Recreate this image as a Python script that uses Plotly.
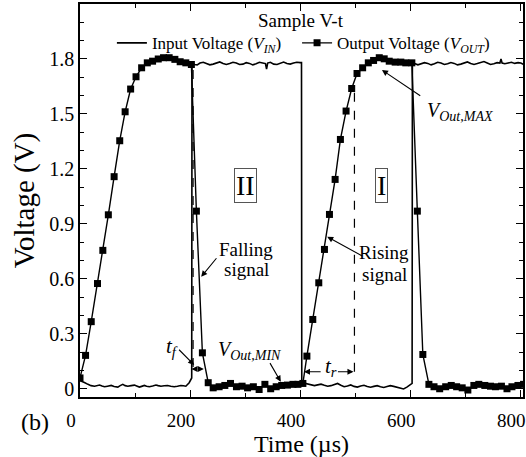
import plotly.graph_objects as go

# ---- Input voltage V_IN (square drive signal) ----
t_in = [0, 2.4, 8, 14.5, 20, 26.5, 31, 35.6, 40, 44.6, 50, 56.7, 62, 68.7, 73, 77.8, 82, 86.8,
        93, 98.9, 103, 107.9, 112, 117, 121, 126, 132, 138, 142, 147.1, 153, 159.2, 165, 171.2,
        177, 183.3, 188, 192.3, 198.4, 201.4, 203,
        203.5, 208, 213, 218, 224, 230, 236, 242, 248, 254, 260, 266, 272, 278, 284, 290, 296,
        302, 308, 314, 320, 326, 332, 337, 339, 341, 346, 352, 358, 364, 370, 376, 382, 388,
        394, 400, 402.5,
        403, 408, 414, 420, 426, 432, 438, 444, 450, 456, 462, 468, 474, 480, 486, 492, 498,
        504, 510, 516, 522, 528, 534, 540, 546, 552, 558, 564, 570, 576, 582, 588, 594, 600, 603.5,
        604, 608, 614, 620, 626, 632, 638, 644, 650, 656, 662, 668, 674, 680, 686, 692, 698,
        704, 710, 716, 722, 728, 734, 740, 746, 752, 758, 763, 765, 767, 772, 778, 784, 790,
        796, 801, 806]
v_in = [0.045, 0.043, 0.035, 0.025, 0.018, 0.015, 0.019, 0.021, 0.016, 0.012, 0.015, 0.019, 0.013,
        0.010, 0.018, 0.025, 0.018, 0.015, 0.018, 0.021, 0.016, 0.010, 0.014, 0.019, 0.015, 0.012,
        0.016, 0.021, 0.018, 0.015, 0.017, 0.019, 0.015, 0.012, 0.015, 0.019, 0.017, 0.015, 0.034,
        0.052, 0.060,
        1.780, 1.770, 1.768, 1.778, 1.782, 1.774, 1.768, 1.772, 1.780, 1.784, 1.776, 1.770, 1.775,
        1.782, 1.778, 1.770, 1.772, 1.780, 1.776, 1.768, 1.774, 1.782, 1.778, 1.775, 1.745, 1.778,
        1.782, 1.772, 1.770, 1.778, 1.783, 1.775, 1.772, 1.778, 1.782, 1.780, 1.780,
        0.035, 0.032, 0.028, 0.022, 0.018, 0.022, 0.026, 0.020, 0.015, 0.018, 0.024, 0.030, 0.020,
        0.012, 0.016, 0.022, 0.014, 0.010, 0.016, 0.020, 0.013, 0.009, 0.014, 0.018, 0.012, 0.008,
        0.013, 0.018, 0.014, 0.010, 0.006, 0.000, 0.010, 0.025, 0.030,
        1.785, 1.775, 1.768, 1.772, 1.780, 1.776, 1.768, 1.774, 1.782, 1.778, 1.770, 1.774, 1.781,
        1.776, 1.768, 1.772, 1.780, 1.784, 1.776, 1.770, 1.775, 1.782, 1.786, 1.778, 1.770, 1.774,
        1.780, 1.778, 1.800, 1.778, 1.774, 1.778, 1.782, 1.776, 1.780, 1.778, 1.770]

# ---- Output voltage V_OUT (sampled, square markers) ----
t_out = [0, 10.1, 20.4, 31.8, 41.5, 51.5, 62.0, 72.2, 82.0, 92.0, 101.8, 112.0, 122.3, 131.9,
         142.2, 151.8, 162.0, 172.4, 182.0, 192.3, 202.4, 211.5, 222.4, 233.0, 242.0, 252.8,
         263.2, 273.5, 284.3, 294.5, 304.5, 315.0, 325.5, 336.0, 346.5, 356.5, 366.5, 377.0,
         387.0, 396.0, 405.0, 412.3, 423.0, 433.9, 444.2, 453.3, 463.6, 473.2, 483.5, 493.7,
         503.4, 513.6, 523.9, 533.5, 543.8, 552.8, 561.9, 572.7, 583.0, 592.0, 603.0, 613.0,
         623.0, 634.0, 643.3, 653.6, 664.5, 674.6, 684.4, 694.5, 704.8, 715.7, 724.7, 735.6,
         745.9, 754.9, 765.8, 775.9, 784.9, 795.8, 806.0]
v_out = [0.06, 0.183, 0.367, 0.575, 0.756, 0.950, 1.158, 1.354, 1.512, 1.636, 1.703, 1.752, 1.779,
         1.788, 1.800, 1.807, 1.807, 1.798, 1.785, 1.779, 1.770, 0.970, 0.197, 0.034, 0.006, 0.012,
         0.019, 0.030, 0.012, 0.015, 0.006, 0.012, -0.003, 0.025, 0.001, 0.012, 0.019, 0.021,
         0.025, 0.025, 0.030, 0.179, 0.379, 0.579, 0.761, 0.952, 1.143, 1.361, 1.516, 1.639,
         1.721, 1.752, 1.779, 1.792, 1.807, 1.801, 1.788, 1.783, 1.783, 1.779, 1.779, 0.970,
         0.188, 0.025, 0.012, 0.001, 0.012, 0.019, 0.012, 0.006, -0.006, 0.019, 0.025, 0.019,
         0.015, 0.012, 0.015, 0.001, 0.012, 0.019, 0.025]

x_tick_vals = [0, 200, 400, 600, 800]
y_tick_vals = [0, 0.3, 0.6, 0.9, 1.2, 1.5, 1.8]
y_tick_text = ["0", "0.3", "0.6", "0.9", "1.2", "1.5", "1.8"]

# times of the guide lines used for reading the fall (t_f) and rise (t_r) times
t_fall_guide = 205.5
t_rise_guide = 498.7

FONT = "Liberation Serif"

fig = go.Figure()
fig.add_trace(go.Scatter(
    x=t_in, y=v_in, mode="lines",
    line=dict(color="black", width=1.6),
    name="Input Voltage (<i>V<sub>IN</sub></i>)", legend="legend"))
fig.add_trace(go.Scatter(
    x=t_out, y=v_out, mode="lines+markers",
    line=dict(color="black", width=1.4),
    marker=dict(symbol="square", size=7, color="black"),
    name="Output Voltage (<i>V<sub>OUT</sub></i>)", legend="legend2"))

dash = dict(color="black", width=1.2, dash="dash")
fig.add_shape(type="line", xref="x", yref="y", x0=t_fall_guide, x1=t_fall_guide,
              y0=0.12, y1=1.75, line=dash)
fig.add_shape(type="line", xref="x", yref="y", x0=t_rise_guide, x1=t_rise_guide,
              y0=0.094, y1=1.631, line=dash)

ann = []


def text(x, y, s, size, xanchor="center", yanchor="middle", **kw):
    ann.append(dict(x=x, y=y, xref="x", yref="y", text=s, showarrow=False,
                    xanchor=xanchor, yanchor=yanchor,
                    font=dict(family=FONT, size=size, color="black"), **kw))


def arrow(x, y, ax, ay):
    ann.append(dict(x=x, y=y, ax=ax, ay=ay, xref="x", yref="y", axref="x", ayref="y",
                    text="", showarrow=True, arrowhead=2, arrowsize=1.1, arrowwidth=1.1,
                    arrowcolor="black", standoff=0, startstandoff=0))


text(301.6, 1.1125, "II", 28, bordercolor="#555555", borderwidth=1, borderpad=1)
text(547.8, 1.110, "I", 28, bordercolor="#555555", borderwidth=1, borderpad=1)
text(301.5, 0.763, "Falling", 19)
text(302.5, 0.649, "signal", 19)
text(551.7, 0.742, "Rising", 19)
text(553.0, 0.627, "signal", 19)
text(627.7, 1.516, "<i>V<sub>Out,MAX</sub></i>", 20, xanchor="left")
text(247.3, 0.207, "<i>V<sub>Out,MIN</sub></i>", 20, xanchor="left")
text(153.2, 0.229, "<i>t<sub>f</sub></i>", 21, xanchor="left")
text(455.2, 0.120, "<i>t<sub>r</sub></i>", 21)

arrow(220.2, 0.612, 250.2, 0.721)     # falling signal
arrow(449.2, 0.830, 515.6, 0.721)     # rising signal
arrow(548.7, 1.740, 621.0, 1.594)     # V_Out,MAX
arrow(364.9, 0.039, 343.7, 0.149)     # V_Out,MIN
arrow(207.5, 0.131, 177.3, 0.222)     # t_f pointer
arrow(202.6, 0.109, 214.0, 0.109)     # t_f span
arrow(225.0, 0.109, 214.0, 0.109)
arrow(407.0, 0.094, 440.0, 0.094)     # t_r span
arrow(497.0, 0.094, 466.0, 0.094)

ann.append(dict(x=0.498, y=0.959, xref="paper", yref="paper", text="Sample V-t",
                xanchor="center", yanchor="middle",
                showarrow=False, font=dict(family=FONT, size=19, color="black")))
ann.append(dict(x=-0.101, y=-0.064, xref="paper", yref="paper", text="(b)",
                xanchor="center", yanchor="middle",
                showarrow=False, font=dict(family=FONT, size=24, color="black")))

axis_common = dict(
    showline=True, linecolor="black", linewidth=1.5, mirror="ticks",
    ticks="inside", ticklen=7, tickwidth=1.3, tickcolor="black",
    showgrid=False, zeroline=False,
)

legend_common = dict(orientation="h", y=0.9, xanchor="left", yanchor="middle",
                     bgcolor="rgba(0,0,0,0)", font=dict(family=FONT, size=17, color="black"))

fig.update_layout(
    width=526, height=457,
    margin=dict(l=80, r=1, t=4, b=60),
    paper_bgcolor="white", plot_bgcolor="white",
    font=dict(family=FONT, color="black"),
    xaxis=dict(range=[0, 805], tickvals=x_tick_vals,
               tickfont=dict(family=FONT, size=19, color="black"),
               ticklabelstandoff=5, ticklabelshift=-9, ticklabeloverflow="allow",
               minor=dict(ticks="inside", dtick=100, tick0=0, ticklen=4, tickcolor="black", tickwidth=1.2),
               title=dict(text="Time (µs)", font=dict(family=FONT, size=24, color="black"), standoff=5),
               **axis_common),
    yaxis=dict(range=[-0.044, 2.1], tickvals=y_tick_vals, ticktext=y_tick_text,
               tickfont=dict(family=FONT, size=20, color="black"),
               minor=dict(ticks="inside", dtick=0.1, tick0=0, ticklen=4, tickcolor="black", tickwidth=1.2),
               title=dict(text="Voltage (V)", font=dict(family=FONT, size=29, color="black"), standoff=6),
               **axis_common),
    showlegend=True,
    legend=dict(x=0.072, **legend_common),
    legend2=dict(x=0.490, **legend_common),
    annotations=ann,
)

fig.write_html("out.html")
